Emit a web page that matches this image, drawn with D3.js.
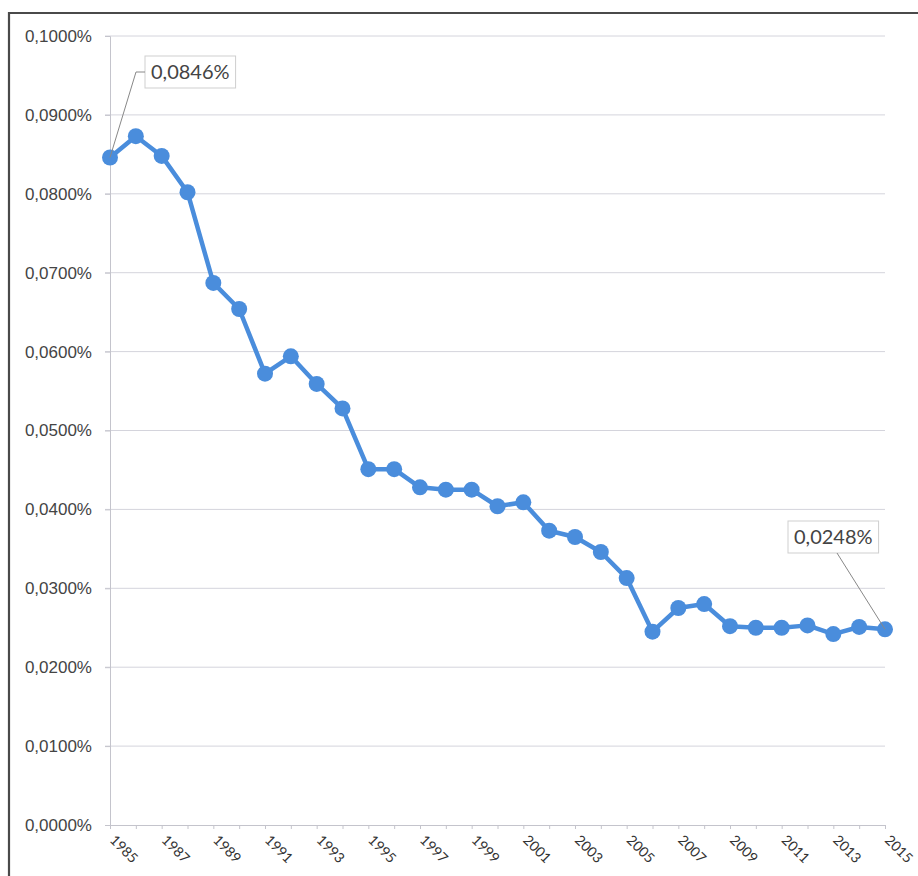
<!DOCTYPE html>
<html>
<head>
<meta charset="utf-8">
<script src="https://cdn.jsdelivr.net/npm/d3@7"></script>
<style>
  body { margin: 0; background: #fff; }
  svg { display: block; font-family: Lato, "Open Sans", sans-serif; }
</style>
</head>
<body>
<div id="chart"></div>
<script>
// data
const years = d3.range(1985, 2016);
const shares = [
  0.0846, 0.0873, 0.0848, 0.0802, 0.0687, 0.0654, 0.0572, 0.0594, 0.0559, 0.0528,
  0.0451, 0.0451, 0.0428, 0.0425, 0.0425, 0.0404, 0.0409, 0.0373, 0.0365, 0.0346,
  0.0313, 0.0245, 0.0275, 0.0280, 0.0252, 0.0250, 0.0250, 0.0253, 0.0242, 0.0251,
  0.0248
];
const yTicks = [0, 0.01, 0.02, 0.03, 0.04, 0.05, 0.06, 0.07, 0.08, 0.09, 0.1];
const xTickYears = d3.range(1985, 2016, 2);
const callouts = [
  { year: 1985, text: "0,0846%", bx: 145, by: 56, lx: 136, ly: 72 },
  { year: 2015, text: "0,0248%", bx: 788, by: 521, lx: 837, ly: 553 }
];

const width = 918, height = 876;
const margin = { top: 36, right: 33, bottom: 51, left: 110 };

const svg = d3.select("#chart").append("svg")
  .attr("width", width)
  .attr("height", height);

// frame (scanned page border)
svg.append("path")
  .attr("d", `M9,${height} V13 H${width}`)
  .attr("fill", "none")
  .attr("stroke", "#4a4a4a")
  .attr("stroke-width", 2.2);

const x = d3.scaleLinear()
  .domain([1985, 2015])
  .range([margin.left, width - margin.right]);

const y = d3.scaleLinear()
  .domain([0, 0.1])
  .range([height - margin.bottom, margin.top]);

const fmt = (v) => d3.format(".4f")(v).replace(".", ",") + "%";

// gridlines
svg.append("g")
  .selectAll("line")
  .data(yTicks.slice(1))
  .join("line")
  .attr("x1", x(1985) - 5)
  .attr("x2", x(2015))
  .attr("y1", (d) => y(d))
  .attr("y2", (d) => y(d))
  .attr("stroke", "#d4d4dc")
  .attr("stroke-width", 1);

// y axis
const yAxis = svg.append("g")
  .attr("transform", `translate(${x(1985)},0)`)
  .call(d3.axisLeft(y).tickValues(yTicks).tickFormat(fmt).tickSize(5).tickPadding(13));
yAxis.select(".domain").attr("stroke", "#c4c4cc");
yAxis.selectAll(".tick line").attr("stroke", "#c4c4cc");
yAxis.selectAll("text")
  .attr("font-size", 17)
  .attr("fill", "#444");

// x axis
const xAxis = svg.append("g")
  .attr("transform", `translate(0,${y(0)})`)
  .call(d3.axisBottom(x).tickValues(years).tickFormat("").tickSize(4));
xAxis.select(".domain").attr("stroke", "#c4c4cc");
xAxis.selectAll(".tick line").attr("stroke", "#c4c4cc");

svg.append("g")
  .selectAll("text")
  .data(xTickYears)
  .join("text")
  .attr("transform", (d) => `translate(${x(d) - 1},${y(0) + 16}) rotate(45)`)
  .attr("font-size", 14)
  .attr("fill", "#333")
  .text((d) => d);

// line
const line = d3.line()
  .x((d, i) => x(years[i]))
  .y((d) => y(d));

svg.append("path")
  .datum(shares)
  .attr("d", line)
  .attr("fill", "none")
  .attr("stroke", "#4a8ddc")
  .attr("stroke-width", 4.5)
  .attr("stroke-linejoin", "round");

svg.append("g")
  .selectAll("circle")
  .data(shares)
  .join("circle")
  .attr("cx", (d, i) => x(years[i]))
  .attr("cy", (d) => y(d))
  .attr("r", 8)
  .attr("fill", "#4a8ddc");

// callouts
callouts.forEach((c) => {
  const v = shares[years.indexOf(c.year)];
  const px = x(c.year), py = y(v);
  const g = svg.append("g");
  const t = g.append("text")
    .attr("x", c.bx + 6)
    .attr("y", c.by + 23)
    .attr("font-size", 20)
    .attr("fill", "#444")
    .text(c.text);
  const w = t.node().getComputedTextLength() + 12;
  g.insert("rect", "text")
    .attr("x", c.bx)
    .attr("y", c.by)
    .attr("width", w)
    .attr("height", 32)
    .attr("fill", "#fff")
    .attr("stroke", "#cfcfcf");
  const pts = c.year === 1985
    ? [[px, py], [c.lx, c.ly], [c.bx, c.ly]]
    : [[px, py], [c.lx, c.ly]];
  g.append("path")
    .attr("d", d3.line()(pts))
    .attr("fill", "none")
    .attr("stroke", "#888")
    .attr("stroke-width", 1);
});
</script>
</body>
</html>
